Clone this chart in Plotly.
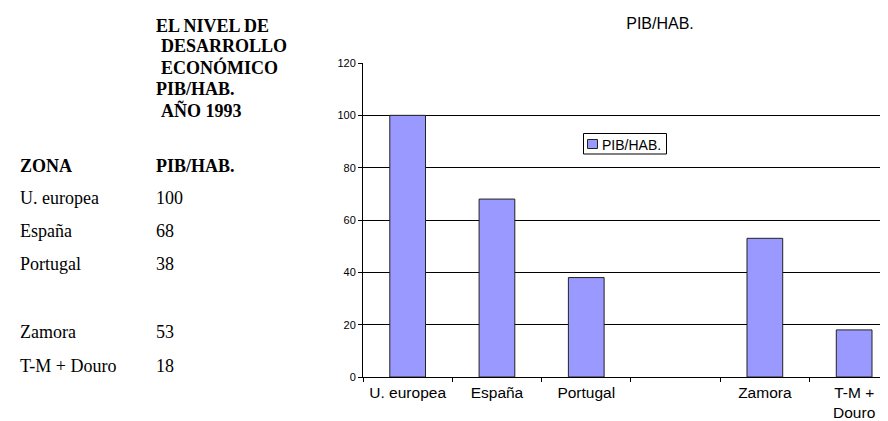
import plotly.graph_objects as go

# ---- data ----
categories = ["U. europea", "España", "Portugal", " ", "Zamora", "T-M +<br>Douro"]
values = [100, 68, 38, None, 53, 18]
series_name = "PIB/HAB."
y_ticks = [0, 20, 40, 60, 80, 100, 120]

table_title = ["EL NIVEL DE", "DESARROLLO", "ECONÓMICO", "PIB/HAB.", "AÑO 1993"]
table_zones = ["U. europea", "España", "Portugal", "Zamora", "T-M + Douro"]
table_values = ["100", "68", "38", "53", "18"]

W, H = 888, 421
L, R, T, B = 355, 0, 55, 52
PW, PH = W - L - R, H - T - B


def px(x):
    return (x - L) / PW


def py(y):
    return (H - B - y) / PH


fig = go.Figure()
fig.add_trace(go.Bar(
    x=categories, y=values, name=series_name, width=0.4,
    marker=dict(color="#9999FF", line=dict(color="#222222", width=1)),
    showlegend=False,
))

serif = "Liberation Serif, Times New Roman, serif"
sans = "Liberation Sans, Arial, sans-serif"


def text_ann(t, xx, yy, size=18, family=serif):
    return dict(text=t, x=px(xx), y=py(yy), xref="paper", yref="paper",
                xanchor="left", yanchor="middle", showarrow=False,
                font=dict(family=family, size=size, color="black"))


ann = []
title_x = [146, 151, 151, 146, 151]
title_y = [17.5, 38.5, 59.5, 81, 102.5]
for t, xx, yy in zip(table_title, title_x, title_y):
    ann.append(text_ann("<b>%s</b>" % t, xx, yy))
ann.append(text_ann("<b>ZONA</b>", 9.5, 158))
ann.append(text_ann("<b>PIB/HAB.</b>", 146, 158))
row_y = [189.5, 223, 256, 323.5, 358]
for z, v, yy in zip(table_zones, table_values, row_y):
    ann.append(text_ann(z, 9.5, yy))
    ann.append(text_ann(v, 146, yy))

# legend (drawn manually)
ann.append(text_ann(series_name, 591.5, 136.5, size=14, family=sans))
shapes = [
    dict(type="rect", xref="paper", yref="paper", x0=px(575.5), x1=px(658.5), y0=py(125.5), y1=py(146),
         line=dict(color="black", width=1), fillcolor="white", layer="above"),
    dict(type="rect", xref="paper", yref="paper", x0=px(579.5), x1=px(589.5), y0=py(131.5), y1=py(140.5),
         line=dict(color="#222222", width=1), fillcolor="#9999FF", layer="above"),
]

fig.update_layout(
    width=W, height=H,
    margin=dict(l=L, r=R, t=T, b=B),
    paper_bgcolor="white", plot_bgcolor="white",
    title=dict(text=series_name, x=652 / W, xanchor="center", y=1 - 15.5 / H, yanchor="middle",
               font=dict(family=sans, size=16, color="black")),
    annotations=ann, shapes=shapes,
    showlegend=False,
    bargap=0.6,
)
fig.update_xaxes(
    type="category", range=[-0.5, -0.5 + PW / 89.3],
    tickson="boundaries", ticks="outside", ticklen=4, tickcolor="black",
    showline=True, linecolor="black", linewidth=1, showgrid=False,
    tickfont=dict(family=sans, size=15.5, color="black"),
    tickangle=0, ticklabelstandoff=1,
)
fig.update_yaxes(
    range=[0, 120], tickvals=y_ticks, ticks="outside", ticklen=4, tickcolor="black",
    showline=True, linecolor="black", linewidth=1,
    showgrid=True, gridcolor="black", gridwidth=1, zeroline=False,
    tickfont=dict(family=sans, size=11, color="black"),
)
fig.write_html("out.html")
